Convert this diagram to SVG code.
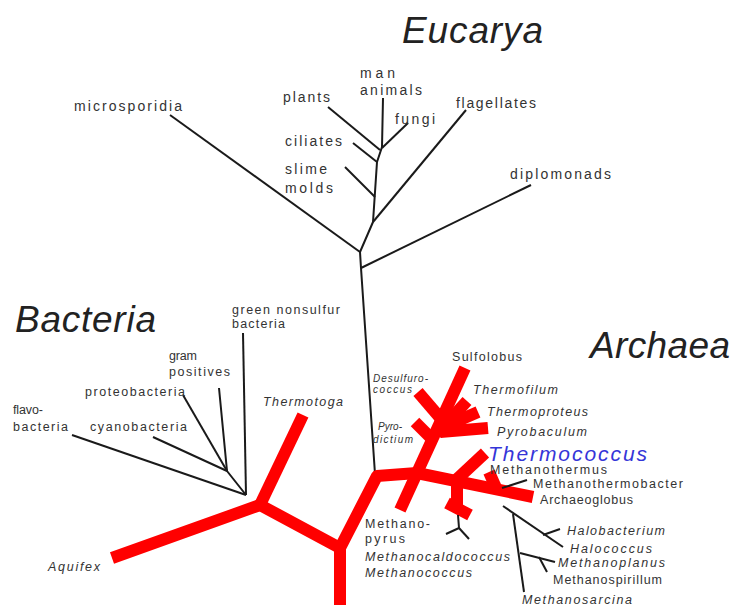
<svg xmlns="http://www.w3.org/2000/svg" width="736" height="605" viewBox="0 0 736 605">
<style>
.bk{fill:none;stroke:#1a1a1a;stroke-width:2;stroke-linecap:butt;stroke-linejoin:round}
.rd{fill:none;stroke:#ff0000;stroke-width:12;stroke-linecap:butt;stroke-linejoin:round}
text{font-family:"Liberation Sans",Arial,sans-serif;fill:#333}
.t{font-size:37px;font-style:italic;fill:#222}
.e{font-size:14px}
.s{font-size:12.5px}
.i{font-style:italic}
.x{font-size:10px;font-style:italic}
.blue{font-size:21px;font-style:italic;fill:#3535d8}
</style>
<rect width="736" height="605" fill="#fff"/>
<g id="connectors">
<path class="bk" d="M375,474 L361,268 L360,252 L373,222 L377,162 L382,147 L383,98"/>
<path class="bk" d="M361,268 L531,185"/>
<path class="bk" d="M360,252 L170,115"/>
<path class="bk" d="M373,222 L466,110"/>
<path class="bk" d="M375,197 L345,167"/>
<path class="bk" d="M377,162 L353,143"/>
<path class="bk" d="M380,150 L328,107"/>
<path class="bk" d="M382,148 L408,123"/>
<path class="bk" d="M243,333 L246,495"/>
<path class="bk" d="M246,495 L227,471 L219,388"/>
<path class="bk" d="M227,471 L183,395"/>
<path class="bk" d="M227,471 L153,437"/>
<path class="bk" d="M246,495 L72,435"/>
<path class="rd" d="M112,558 L260,505 L340,548 L340,605"/>
<path class="rd" d="M260,505 L303,415"/>
<path class="rd" d="M340,548 L377,476 L417,473 L533,497"/>
<path class="rd" d="M400,510 L465,368"/>
<path class="rd" d="M418,392 L442,420"/>
<path class="rd" d="M415,422 L433,440"/>
<path class="rd" d="M437,434 L467,401"/>
<path class="rd" d="M446,426 L478,412"/>
<path class="rd" d="M440,432 L488,428"/>
<path class="rd" d="M455,481 L485,453"/>
<path class="rd" d="M497,490 L489,472"/>
<path class="rd" d="M457,484 L457,506"/>
<path class="rd" d="M447,503 L470,515"/>
<path class="bk" d="M458,515 L459,528 L446,534"/>
<path class="bk" d="M459,528 L469,539"/>
<path class="bk" d="M502,488 L527,480"/>
<path class="bk" d="M503,506 L563,547"/>
<path class="bk" d="M543,535 L560,529"/>
<path class="bk" d="M513,514 L524,592"/>
<path class="bk" d="M520,553 L555,562"/>
<path class="bk" d="M539,557 L547,572"/>
</g>
<g id="title-eucarya"><text class="t" x="402" y="43" textLength="141">Eucarya</text></g>
<g id="title-bacteria"><text class="t" x="15" y="332" textLength="141">Bacteria</text></g>
<g id="title-archaea"><text class="t" x="590" y="358" textLength="140">Archaea</text></g>
<g id="microsporidia"><text class="e" x="74" y="111" textLength="108">microsporidia</text></g>
<g id="man-animals"><text class="e" x="360" y="78" textLength="35">man</text><text class="e" x="360" y="95" textLength="62">animals</text></g>
<g id="plants"><text class="e" x="283" y="102" textLength="47">plants</text></g>
<g id="fungi"><text class="e" x="395" y="124" textLength="40">fungi</text></g>
<g id="flagellates"><text class="e" x="456" y="108" textLength="80">flagellates</text></g>
<g id="ciliates"><text class="e" x="285" y="146" textLength="57">ciliates</text></g>
<g id="slime-molds"><text class="e" x="285" y="174" textLength="42">slime</text><text class="e" x="285" y="193" textLength="48">molds</text></g>
<g id="diplomonads"><text class="e" x="510" y="179" textLength="101">diplomonads</text></g>
<g id="green-nonsulfur"><text class="s" x="232" y="314" textLength="108">green nonsulfur</text><text class="s" x="232" y="328" textLength="53">bacteria</text></g>
<g id="gram-positives"><text class="s" x="169" y="360" textLength="28">gram</text><text class="s" x="169" y="376" textLength="61">positives</text></g>
<g id="proteobacteria"><text class="s" x="85" y="396" textLength="100">proteobacteria</text></g>
<g id="flavobacteria"><text class="s" x="13" y="414" textLength="30">flavo-</text><text class="s" x="13" y="431" textLength="55">bacteria</text></g>
<g id="cyanobacteria"><text class="s" x="90" y="431" textLength="97">cyanobacteria</text></g>
<g id="thermotoga"><text class="s i" x="263" y="406" textLength="80">Thermotoga</text></g>
<g id="aquifex"><text class="s i" x="48" y="571" textLength="52">Aquifex</text></g>
<g id="sulfolobus"><text class="s" x="452" y="361" textLength="70">Sulfolobus</text></g>
<g id="thermofilum"><text class="s i" x="473" y="394" textLength="85">Thermofilum</text></g>
<g id="thermoproteus"><text class="s i" x="487" y="416" textLength="101">Thermoproteus</text></g>
<g id="pyrobaculum"><text class="s i" x="497" y="436" textLength="90">Pyrobaculum</text></g>
<g id="methanothermus"><text class="s" x="490" y="474" textLength="117">Methanothermus</text></g>
<g id="thermococcus"><text class="blue" x="488" y="461" textLength="159">Thermococcus</text></g>
<g id="methanothermobacter"><text class="s" x="533" y="488" textLength="150">Methanothermobacter</text></g>
<g id="archaeoglobus"><text class="s" x="540" y="504" textLength="93">Archaeoglobus</text></g>
<g id="halobacterium"><text class="s i" x="567" y="535" textLength="98">Halobacterium</text></g>
<g id="halococcus"><text class="s i" x="570" y="553" textLength="82">Halococcus</text></g>
<g id="methanoplanus"><text class="s i" x="558" y="567" textLength="107">Methanoplanus</text></g>
<g id="methanospirillum"><text class="s" x="553" y="584" textLength="109">Methanospirillum</text></g>
<g id="methanosarcina"><text class="s i" x="522" y="604" textLength="110">Methanosarcina</text></g>
<g id="methanopyrus"><text class="s" x="365" y="528" textLength="65">Methano-</text><text class="s" x="365" y="543" textLength="40">pyrus</text></g>
<g id="methanocaldococcus"><text class="s i" x="365" y="561" textLength="145">Methanocaldococcus</text></g>
<g id="methanococcus"><text class="s i" x="365" y="577" textLength="107">Methanococcus</text></g>
<g id="desulfurococcus"><text class="x" x="373" y="382" textLength="55">Desulfuro-</text><text class="x" x="373" y="393" textLength="39">coccus</text></g>
<g id="pyrodictium"><text class="x" x="378" y="430" textLength="24">Pyro-</text><text class="x" x="373" y="443" textLength="40">dictium</text></g>
</svg>
